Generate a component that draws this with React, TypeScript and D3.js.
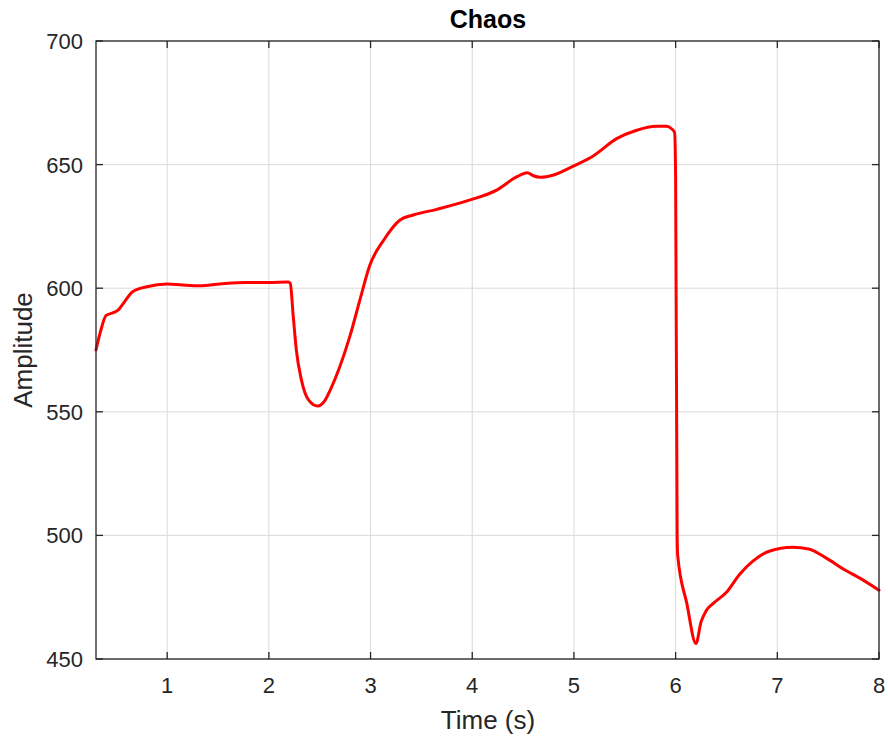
import React from "react";
import * as d3 from "d3";

const times = [0.3, 0.34, 0.4, 0.47, 0.52, 0.58, 0.66, 0.8, 1.0, 1.15, 1.32, 1.52, 1.78, 2.0, 2.19, 2.21, 2.24, 2.27, 2.32, 2.39, 2.48, 2.55, 2.6, 2.7, 2.8, 2.9, 2.99, 3.13, 3.29, 3.42, 3.65, 3.98, 4.24, 4.44, 4.54, 4.6, 4.67, 4.8, 5.0, 5.19, 5.42, 5.61, 5.81, 5.91, 5.96, 5.99, 6.0, 6.015, 6.02, 6.11, 6.2, 6.25, 6.3, 6.37, 6.5, 6.63, 6.76, 6.92, 7.15, 7.31, 7.47, 7.67, 7.82, 8.0];
const amplitude = [575, 581.8, 589, 590.1, 591.2, 594.5, 598.6, 600.6, 601.7, 601.3, 601, 601.7, 602.3, 602.3, 602.5, 602, 588.5, 575, 562.9, 554.8, 552.3, 554.5, 558.5, 568.5, 581, 596, 609, 619.5, 627.6, 629.6, 631.9, 635.7, 639.7, 645.1, 646.7, 645.5, 644.9, 645.8, 649.5, 653.5, 660.5, 663.8, 665.5, 665.5, 664.5, 663, 645, 500, 492, 472.5, 456.3, 465, 469.5, 472.5, 477, 484.3, 489.6, 493.6, 495.2, 494.5, 491.1, 485.9, 482.5, 477.8];
const xTicks = [1, 2, 3, 4, 5, 6, 7, 8];
const yTicks = [450, 500, 550, 600, 650, 700];
const titleText = "Chaos";
const xLabel = "Time (s)";
const yLabel = "Amplitude";

const W = 888;
const H = 738;
const L = 96;
const R = 879;
const T = 41;
const B = 659;
const FONT = "'Liberation Sans', Arial, Helvetica, sans-serif";
const TXT = "#262626";

export default function App() {
  const x = d3.scaleLinear().domain([0.3, 8]).range([L, R]);
  const y = d3.scaleLinear().domain([450, 700]).range([B, T]);
  const pts: [number, number][] = times.map((t, i) => [t, amplitude[i]]);
  const line = d3
    .line<[number, number]>()
    .x((d) => x(d[0]))
    .y((d) => y(d[1]))
    .curve(d3.curveMonotoneX);
  const tl = 7;
  return (
    <svg width={W} height={H} style={{ position: "absolute", left: 0, top: 0, background: "#fff" }}>
      <rect x={0} y={0} width={W} height={H} fill="#fff" />
      {xTicks.map((t) => (
        <line key={"gx" + t} x1={x(t)} x2={x(t)} y1={T} y2={B} stroke="#dadada" strokeWidth={1} />
      ))}
      {yTicks.map((t) => (
        <line key={"gy" + t} x1={L} x2={R} y1={y(t)} y2={y(t)} stroke="#dadada" strokeWidth={1} />
      ))}
      <path d={line(pts) || ""} fill="none" stroke="#ff0000" strokeWidth={3} strokeLinejoin="round" strokeLinecap="round" />
      <rect x={L} y={T} width={R - L} height={B - T} fill="none" stroke={TXT} strokeWidth={1.3} />
      {xTicks.map((t) => (
        <g key={"tx" + t}>
          <line x1={x(t)} x2={x(t)} y1={B} y2={B - tl} stroke={TXT} strokeWidth={1.3} />
          <line x1={x(t)} x2={x(t)} y1={T} y2={T + tl} stroke={TXT} strokeWidth={1.3} />
          <text x={x(t)} y={693} textAnchor="middle" fontFamily={FONT} fontSize={22} fill={TXT}>
            {t}
          </text>
        </g>
      ))}
      {yTicks.map((t) => (
        <g key={"ty" + t}>
          <line x1={L} x2={L + tl} y1={y(t)} y2={y(t)} stroke={TXT} strokeWidth={1.3} />
          <line x1={R} x2={R - tl} y1={y(t)} y2={y(t)} stroke={TXT} strokeWidth={1.3} />
          <text x={83} y={y(t) + 8} textAnchor="end" fontFamily={FONT} fontSize={22} fill={TXT}>
            {t}
          </text>
        </g>
      ))}
      <text x={488} y={28} textAnchor="middle" fontFamily={FONT} fontSize={25} fontWeight="bold" fill="#000">
        {titleText}
      </text>
      <text x={488} y={729} textAnchor="middle" fontFamily={FONT} fontSize={26} fill={TXT}>
        {xLabel}
      </text>
      <text
        transform={`translate(32, 350) rotate(-90)`}
        textAnchor="middle"
        fontFamily={FONT}
        fontSize={26}
        fill={TXT}
      >
        {yLabel}
      </text>
    </svg>
  );
}
